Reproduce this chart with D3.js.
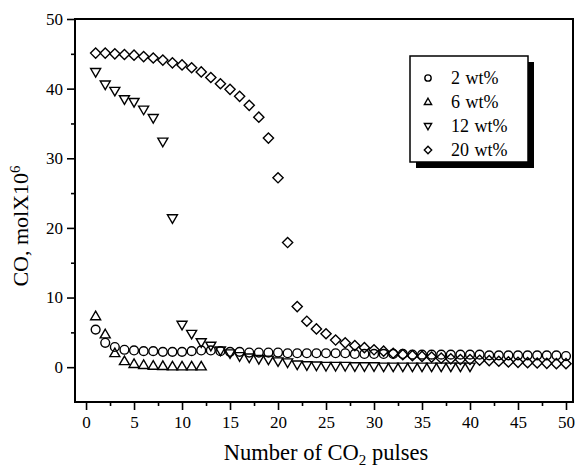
<!DOCTYPE html>
<html>
<head>
<meta charset="utf-8">
<script src="https://cdn.jsdelivr.net/npm/d3@7"></script>
<style>
  body { margin: 0; background: #fff; }
  svg text { font-family: "Liberation Serif", "Times New Roman", serif; fill: #000; }
</style>
</head>
<body>
<div id="chart"></div>
<script>
// pulse numbers (x)
var pulses = [1,2,3,4,5,6,7,8,9,10,11,12,13,14,15,16,17,18,19,20,21,22,23,24,25,
              26,27,28,29,30,31,32,33,34,35,36,37,38,39,40,41,42,43,44,45,46,47,48,49,50];

// CO, mol x 10^6
var wt2 = [5.4,3.5,2.9,2.5,2.4,2.3,2.3,2.2,2.2,2.2,2.3,2.4,2.4,2.3,2.2,2.2,2.1,2.1,2.1,2.1,
           2.0,2.0,2.0,2.0,2.0,2.0,2.0,1.9,1.9,1.9,1.9,1.9,1.9,1.8,1.8,1.8,1.8,1.8,1.8,1.8,
           1.8,1.7,1.7,1.7,1.7,1.7,1.7,1.7,1.7,1.6];
var wt6 = [7.3,4.7,2.0,0.85,0.45,0.3,0.2,0.15,0.1,0.1,0.1,0.1];
var wt12 = [42.4,40.6,39.7,38.5,38.1,37.0,35.8,32.4,21.4,6.1,4.8,3.6,3.1,2.4,2.0,1.6,1.4,1.2,1.1,0.85,
            0.7,0.4,0.3,0.25,0.2,0.2,0.2,0.15,0.15,0.15,0.1,0.1,0.1,0.1,0.1,0.1,0.1,0.1,0.1,0.1];
var wt20 = [45.1,45.1,45.0,44.9,44.8,44.6,44.4,44.1,43.7,43.4,43.0,42.4,41.6,40.7,39.9,38.9,37.6,35.9,32.9,27.2,
            17.9,8.7,6.6,5.5,4.8,3.9,3.5,3.1,2.8,2.5,2.3,2.0,1.8,1.65,1.55,1.45,1.3,1.2,1.1,1.1,
            1.0,0.95,0.85,0.75,0.7,0.65,0.6,0.55,0.5,0.5];

var seriesNames = ["2 wt%", "6 wt%", "12 wt%", "20 wt%"];
var seriesShapes = ["circle", "up", "down", "diamond"];
var seriesValues = [wt2, wt6, wt12, wt20];

var xTicks = [0,5,10,15,20,25,30,35,40,45,50];
var xMinor = [2.5,7.5,12.5,17.5,22.5,27.5,32.5,37.5,42.5,47.5];
var yTicks = [0,10,20,30,40,50];
var yMinor = [5,15,25,35,45];

var width = 577, height = 467;

var svg = d3.select('#chart')
  .append('svg')
  .attr('width', width)
  .attr('height', height);

var x = d3.scaleLinear().domain([-1.15, 50.73]).range([75, 573]);
var y = d3.scaleLinear().domain([-5, 50]).range([402, 19]);

// marker path, centred on 0,0
function markerPath(shape, s) {
  var p = d3.path();
  if (shape === "circle") {
    p.arc(0, 0, 4.4 * s, 0, 2 * Math.PI);
  } else if (shape === "up") {
    p.moveTo(0, -5.2 * s); p.lineTo(5 * s, 3.4 * s); p.lineTo(-5 * s, 3.4 * s); p.closePath();
  } else if (shape === "down") {
    p.moveTo(0, 5.2 * s); p.lineTo(5 * s, -3.4 * s); p.lineTo(-5 * s, -3.4 * s); p.closePath();
  } else {
    p.moveTo(0, -5.1 * s); p.lineTo(5.1 * s, 0); p.lineTo(0, 5.1 * s); p.lineTo(-5.1 * s, 0); p.closePath();
  }
  return p.toString();
}

// axes
svg.append('g')
  .attr('transform', 'translate(0,402)')
  .call(d3.axisBottom(x).tickValues(xTicks).tickSize(8).tickPadding(5.5).tickFormat(d3.format('d')));
svg.append('g')
  .attr('transform', 'translate(0,402)')
  .call(d3.axisBottom(x).tickValues(xMinor).tickSize(4).tickFormat(''));

svg.append('g')
  .attr('transform', 'translate(75,0)')
  .call(d3.axisLeft(y).tickValues(yTicks).tickSize(8).tickPadding(4).tickFormat(d3.format('d')));
svg.append('g')
  .attr('transform', 'translate(75,0)')
  .call(d3.axisLeft(y).tickValues(yMinor).tickSize(4).tickFormat(''));

svg.selectAll('.domain').remove();
svg.selectAll('.tick line').attr('stroke', '#000').attr('stroke-width', 1.6);
svg.selectAll('.tick text').style('font-size', '17px');

// frame
svg.append('rect')
  .attr('x', x.range()[0]).attr('y', y.range()[1])
  .attr('width', x.range()[1] - x.range()[0])
  .attr('height', y.range()[0] - y.range()[1])
  .attr('fill', 'none').attr('stroke', '#000').attr('stroke-width', 2);

// points
seriesValues.forEach(function(vals, k) {
  svg.append('g').selectAll('path')
    .data(vals)
    .enter()
    .append('path')
    .attr('d', markerPath(seriesShapes[k], 1))
    .attr('transform', function(d, i) { return 'translate(' + x(pulses[i]) + ',' + y(d) + ')'; })
    .attr('fill', 'none')
    .attr('stroke', '#000')
    .attr('stroke-width', 1.4);
});

// legend
var lg = svg.append('g').attr('transform', 'translate(410,56)');
lg.append('rect').attr('x', 6).attr('y', 6).attr('width', 118).attr('height', 106).attr('fill', '#000');
lg.append('rect').attr('width', 118).attr('height', 106)
  .attr('fill', '#fff').attr('stroke', '#000').attr('stroke-width', 1.5);
seriesNames.forEach(function(name, k) {
  var row = lg.append('g').attr('transform', 'translate(0,' + (22 + k * 24) + ')');
  row.append('path')
    .attr('d', markerPath(seriesShapes[k], 0.72))
    .attr('transform', 'translate(18,0)')
    .attr('fill', 'none').attr('stroke', '#000').attr('stroke-width', 1.4);
  row.append('text')
    .attr('x', 41).attr('y', 6)
    .style('font-size', '18px')
    .style('word-spacing', '1px')
    .text(name);
});

// axis titles
var xt = svg.append('text')
  .attr('x', 326).attr('y', 460)
  .attr('text-anchor', 'middle')
  .style('font-size', '22.5px');
xt.append('tspan').text('Number of CO');
xt.append('tspan').attr('dy', 5).style('font-size', '15px').text('2');
xt.append('tspan').attr('dy', -5).text(' pulses');

var yt = svg.append('text')
  .attr('transform', 'translate(28,226) rotate(-90)')
  .attr('text-anchor', 'middle')
  .style('font-size', '22px');
yt.append('tspan').text('CO, molX10');
yt.append('tspan').attr('dy', -8).style('font-size', '15px').text('6');
</script>
</body>
</html>
